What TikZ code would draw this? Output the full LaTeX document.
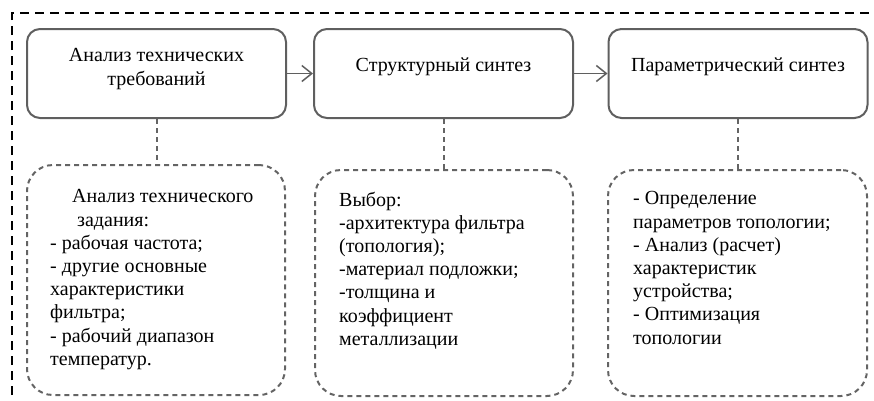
\documentclass[tikz,border=0pt]{standalone}
\usepackage{fontspec}
\setmainfont{Liberation Serif}
\usetikzlibrary{arrows.meta}
\definecolor{boxgray}{RGB}{95,95,95}
\definecolor{notegray}{RGB}{100,100,100}
\begin{document}
\begin{tikzpicture}[x=1pt,y=-1pt,
  stage/.style={draw=boxgray, line width=2pt, rounded corners=13pt,
    minimum width=259pt, minimum height=89pt, inner sep=0pt},
  note/.style={draw=notegray, line width=2pt, dash pattern=on 5pt off 4pt,
    rounded corners=26pt, inner sep=0pt},
  title/.style={font=\fontsize{20}{24.5}\selectfont, align=center, inner sep=0pt},
  bodytext/.style={font=\fontsize{20}{23.2}\selectfont, align=left,
    anchor=north west, inner sep=0pt},
  flow/.style={draw=boxgray, line width=1.5pt,
    -{Straight Barb[length=10pt,width=16pt,line width=1.5pt]}},
  link/.style={draw=notegray, line width=2pt, dash pattern=on 5pt off 4pt},
  frame/.style={draw=black, line width=2pt, dash pattern=on 9pt off 6pt}]
\useasboundingbox (0,0) rectangle (874,400);
\clip (0,0) rectangle (874,400);

% outer dashed frame (runs off the right and bottom edges)
\draw[frame] (12,410) -- (12,13) -- (890,13);

% stage boxes
\node[stage] (s1) at (156.5,73.5) {};
\node[stage] (s2) at (443.5,73.5) {};
\node[stage] (s3) at (738,73.5) {};
\node[title] (t1) at (156.5,69) {Анализ технических\\требований};
\node[title] (t2) at (443.5,67) {Структурный синтез};
\node[title] (t3) at (738,67) {Параметрический синтез};

% flow arrows
\draw[flow] (s1.east) -- (s2.west);
\draw[flow] (s2.east) -- (s3.west);

% note boxes
\node[note, minimum width=258pt, minimum height=230pt] (n1) at (156,280) {};
\node[note, minimum width=258pt, minimum height=226pt] (n2) at (444,283) {};
\node[note, minimum width=259pt, minimum height=226pt] (n3) at (737.5,283) {};

% dashed links from stages to notes
\draw[link] (s1.south) -- (s1.south |- n1.north);
\draw[link] (s2.south) -- (s2.south |- n2.north);
\draw[link] (s3.south) -- (s3.south |- n3.north);

% note texts
\node[bodytext] (d1) at (50,189.5) {\hspace*{22pt}Анализ технического\\
\hspace*{27pt}задания:\\
- рабочая частота;\\
- другие основные\\
характеристики\\
фильтра;\\
- рабочий диапазон\\
температур.};
\node[bodytext] (d2) at (339,191.5) {Выбор:\\
-архитектура фильтра\\
(топология);\\
-материал подложки;\\
-толщина и\\
коэффициент\\
металлизации};
\node[bodytext] (d3) at (633,191.5) {- Определение\\
параметров топологии;\\
- Анализ (расчет)\\
характеристик\\
устройства;\\
- Оптимизация\\
топологии};
\end{tikzpicture}
\end{document}
